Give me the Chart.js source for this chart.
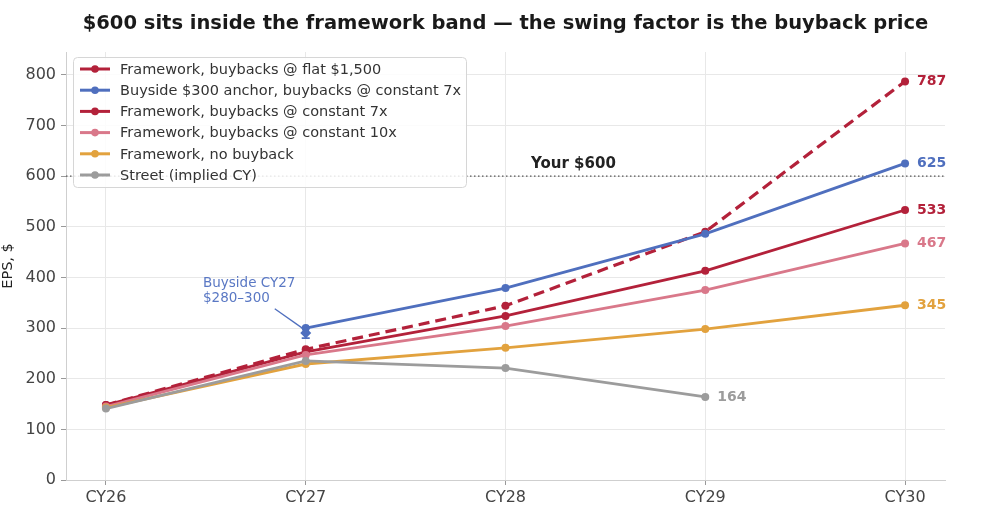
<!DOCTYPE html>
<html>
<head>
<meta charset="utf-8">
<script src="https://cdn.jsdelivr.net/npm/chart.js@4.4.0/dist/chart.umd.min.js"></script>
<style>
html,body{margin:0;padding:0;background:#fff;}
#wrap{width:990px;height:518px;}
</style>
</head>
<body>
<div id="wrap"><canvas id="c" width="990" height="518"></canvas></div>
<script>
const categories = ['CY26','CY27','CY28','CY29','CY30'];
const flat1500   = [148, 258, 344, 490, 787];
const buyside7x  = [null, 300, 379, 486, 625];
const const7x    = [148, 253, 324, 413, 533];
const const10x   = [145, 247, 304, 375, 467];
const noBuyback  = [143, 229, 261, 298, 345];
const street     = [141, 235, 221, 164, null];
const buysideRange = [280, 300];
const targetEPS = 600;
const yTicks = [0,100,200,300,400,500,600,700,800];

const seriesNames = [
  'Framework, buybacks @ flat $1,500',
  'Buyside $300 anchor, buybacks @ constant 7x',
  'Framework, buybacks @ constant 7x',
  'Framework, buybacks @ constant 10x',
  'Framework, no buyback',
  'Street (implied CY)'
];
const seriesData = [flat1500, buyside7x, const7x, const10x, noBuyback, street];
const colors = ['#b3213a','#4f6fbe','#b3213a','#d9788a','#e2a23e','#9c9c9c'];
const dashes = [[11,6],[],[],[],[],[]];

const FONT = "'DejaVu Sans', sans-serif";

const datasets = seriesData.map((arr, i) => ({
  label: seriesNames[i],
  data: arr.map((v, k) => ({x: k, y: v})),
  borderColor: colors[i],
  backgroundColor: colors[i],
  borderWidth: i === 0 ? 3.2 : 2.8,
  borderDash: dashes[i],
  pointRadius: 4,
  pointHoverRadius: 4,
  pointBorderWidth: 0,
  spanGaps: false,
  tension: 0,
  order: 6 - i
}));

const overlay = {
  id: 'overlay',
  beforeDatasetsDraw(chart) {
    const {ctx, scales: {x, y}, chartArea} = chart;
    ctx.save();
    const ty = y.getPixelForValue(targetEPS);
    ctx.strokeStyle = '#555';
    ctx.lineWidth = 1.4;
    ctx.setLineDash([1.5, 2.5]);
    ctx.beginPath();
    ctx.moveTo(chartArea.left, ty);
    ctx.lineTo(chartArea.right, ty);
    ctx.stroke();
    ctx.setLineDash([]);
    ctx.fillStyle = '#222';
    ctx.font = 'bold 15px ' + FONT;
    ctx.textAlign = 'center';
    ctx.textBaseline = 'bottom';
    ctx.fillText('Your $600', x.getPixelForValue(2.34), ty - 4);
    ctx.restore();
  },
  afterDatasetsDraw(chart) {
    const {ctx, scales: {x, y}, chartArea} = chart;
    ctx.save();
    ctx.fillStyle = '#1a1a1a';
    ctx.font = 'bold 19.5px ' + FONT;
    ctx.textAlign = 'center';
    ctx.textBaseline = 'middle';
    ctx.fillText('$600 sits inside the framework band \u2014 the swing factor is the buyback price', (chartArea.left + chartArea.right) / 2, 24);

    const ex = x.getPixelForValue(1);
    const y1 = y.getPixelForValue(buysideRange[0]);
    const y2 = y.getPixelForValue(buysideRange[1]);
    const ym = y.getPixelForValue((buysideRange[0] + buysideRange[1]) / 2);
    ctx.strokeStyle = colors[1];
    ctx.fillStyle = colors[1];
    ctx.lineWidth = 1.8;
    ctx.beginPath();
    ctx.moveTo(ex, y1); ctx.lineTo(ex, y2);
    ctx.moveTo(ex - 4, y1); ctx.lineTo(ex + 4, y1);
    ctx.moveTo(ex - 4, y2); ctx.lineTo(ex + 4, y2);
    ctx.stroke();
    ctx.beginPath();
    ctx.moveTo(ex, ym - 5.5); ctx.lineTo(ex + 5.5, ym); ctx.lineTo(ex, ym + 5.5); ctx.lineTo(ex - 5.5, ym);
    ctx.closePath();
    ctx.fill();

    ctx.strokeStyle = colors[1];
    ctx.lineWidth = 1.3;
    ctx.beginPath();
    ctx.moveTo(ex - 31, y.getPixelForValue(338));
    ctx.lineTo(ex - 2, ym - 4);
    ctx.stroke();
    ctx.fillStyle = '#5a78c4';
    ctx.font = '13.5px ' + FONT;
    ctx.textAlign = 'left';
    ctx.textBaseline = 'middle';
    ctx.fillText('Buyside CY27', 203, 283);
    ctx.fillText('$280\u2013300', 203, 298);

    ctx.font = 'bold 14px ' + FONT;
    seriesData.forEach((arr, i) => {
      let k = arr.length - 1;
      while (k >= 0 && arr[k] === null) k--;
      const px = x.getPixelForValue(k) + 12;
      const py = y.getPixelForValue(arr[k]);
      ctx.fillStyle = colors[i];
      ctx.fillText(String(arr[k]), px, py);
    });

    const lx = 73, ly = 57, lw = 393, lh = 130;
    ctx.fillStyle = 'rgba(255,255,255,0.85)';
    ctx.strokeStyle = '#d6d6d6';
    ctx.lineWidth = 1;
    ctx.beginPath();
    ctx.roundRect(lx + 0.5, ly + 0.5, lw, lh, 4);
    ctx.fill();
    ctx.stroke();
    ctx.font = '14.5px ' + FONT;
    seriesNames.forEach((name, i) => {
      const cy = 69 + i * 21.2;
      ctx.strokeStyle = colors[i];
      ctx.fillStyle = colors[i];
      ctx.lineWidth = 3;
      ctx.beginPath();
      ctx.moveTo(80, cy); ctx.lineTo(110, cy);
      ctx.stroke();
      ctx.beginPath();
      ctx.arc(95, cy, 3.8, 0, Math.PI * 2);
      ctx.fill();
      ctx.fillStyle = '#333';
      ctx.textAlign = 'left';
      ctx.textBaseline = 'middle';
      ctx.fillText(name, 120, cy + 1);
    });
    ctx.restore();
  }
};

new Chart(document.getElementById('c'), {
  type: 'line',
  data: { datasets },
  options: {
    responsive: false,
    animation: false,
    devicePixelRatio: 1,
    layout: { padding: { top: 52, right: 45, left: 0, bottom: 0 } },
    plugins: { legend: { display: false }, tooltip: { enabled: false }, title: { display: false } },
    scales: {
      x: {
        type: 'linear',
        min: -0.2,
        max: 4.2,
        afterBuildTicks: s => { s.ticks = categories.map((c, i) => ({ value: i })); },
        afterFit: s => { s.height = 38; },
        ticks: {
          callback: v => categories[v],
          color: '#444',
          font: { family: FONT, size: 16 },
          padding: 3
        },
        grid: { color: '#e8e8e8', tickColor: '#999', tickLength: 5, lineWidth: 1 },
        border: { color: '#cfcfcf' }
      },
      y: {
        min: 0,
        max: 845,
        afterBuildTicks: s => { s.ticks = yTicks.map(v => ({ value: v })); },
        afterFit: s => { s.width = 66; },
        ticks: {
          color: '#444',
          font: { family: FONT, size: 16 },
          padding: 5
        },
        title: {
          display: true,
          text: 'EPS, $',
          color: '#222',
          font: { family: FONT, size: 14.5 },
          padding: 0
        },
        grid: { color: '#e8e8e8', tickColor: '#999', tickLength: 5, lineWidth: 1 },
        border: { color: '#cfcfcf' }
      }
    }
  },
  plugins: [overlay]
});
</script>
</body>
</html>
